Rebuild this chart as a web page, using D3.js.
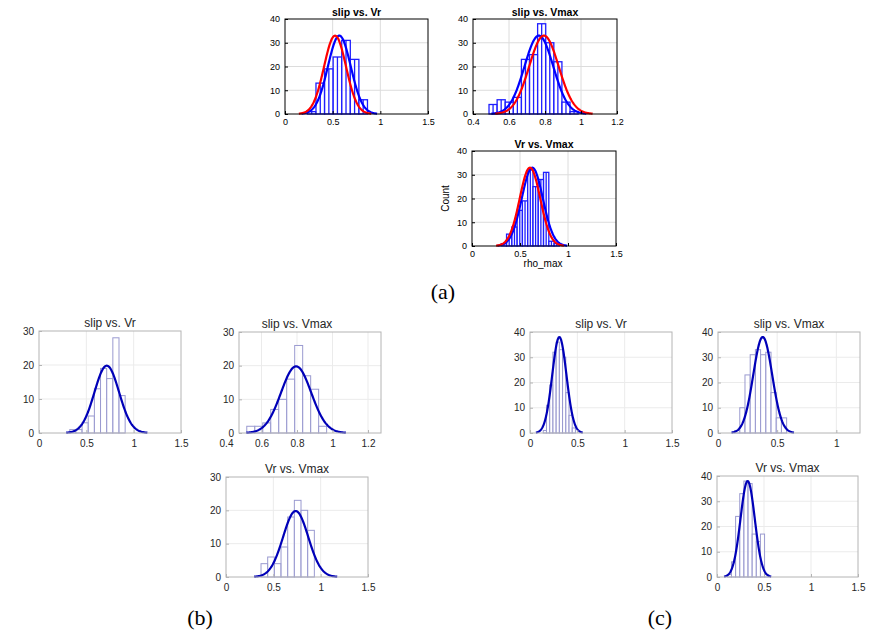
<!DOCTYPE html>
<html><head><meta charset="utf-8">
<script src="https://cdn.jsdelivr.net/npm/d3@7"></script>
<style>
body{margin:0;background:#fff}
svg{display:block}
text{font-family:"Liberation Sans",Arial,sans-serif}
</style>
</head><body>
<svg id="chart" width="882" height="633"></svg>
<script>
// ---------- DATA ----------
const titles = ["slip vs. Vr", "slip vs. Vmax", "Vr vs. Vmax"];
const groupLabels = ["(a)", "(b)", "(c)"];
const xTicksFull = [0, 0.5, 1, 1.5];
const xTicksVmax = [0.4, 0.6, 0.8, 1, 1.2];
const xTicksShort = [0, 0.5, 1];
const yTicks40 = [0, 10, 20, 30, 40];
const yTicks30 = [0, 10, 20, 30];
const axisLabels = ["Count", "rho_max"];

// histograms: first bin edge, bin width, counts
const aSlipVrStart = 0.235, aSlipVrWidth = 0.09;
const aSlipVrCounts = [1, 13, 19, 24, 31, 23, 6];
const aSlipVmaxStart = 0.489, aSlipVmaxWidth = 0.045;
const aSlipVmaxCounts = [4, 6, 5, 7, 23, 25, 38, 30, 22, 5, 1];
const aVrVmaxStart = 0.305, aVrVmaxWidth = 0.055;
const aVrVmaxCounts = [1, 5, 8, 15, 19, 32, 25, 28, 31, 2, 1];

const bSlipVrStart = 0.325, bSlipVrWidth = 0.065;
const bSlipVrCounts = [1, 1, 3, 5, 13, 19, 16, 28, 11];
const bSlipVmaxStart = 0.517, bSlipVmaxWidth = 0.045;
const bSlipVmaxCounts = [2, 2, 3, 7, 10, 16, 26, 17, 13, 2];
const bVrVmaxStart = 0.37, bVrVmaxWidth = 0.0704;
const bVrVmaxCounts = [4, 6, 4, 9, 18, 23, 20, 14];

const cSlipVrStart = 0.14, cSlipVrWidth = 0.034;
const cSlipVrCounts = [1, 11, 19, 32, 36, 33, 30, 16, 7, 2];
const cSlipVmaxStart = 0.14, cSlipVmaxWidth = 0.044;
const cSlipVmaxCounts = [1, 10, 23, 31, 33, 31, 32, 16, 6, 6];
const cVrVmaxStart = 0.11, cVrVmaxWidth = 0.044;
const cVrVmaxCounts = [1, 6, 24, 33, 38, 37, 17, 14, 17, 1];

// fitted normal curves: [mean, sigma, peak count]
const aSlipVrBlue = [0.57, 0.12, 33], aSlipVrRed = [0.525, 0.115, 33];
const aSlipVmaxBlue = [0.766, 0.08, 33], aSlipVmaxRed = [0.794, 0.082, 33];
const aVrVmaxBlue = [0.628, 0.11, 33], aVrVmaxRed = [0.604, 0.107, 33];
const bSlipVrFit = [0.716, 0.13, 19.8];
const bSlipVmaxFit = [0.795, 0.085, 19.8];
const bVrVmaxFit = [0.736, 0.133, 19.8];
const cSlipVrFit = [0.31, 0.075, 38];
const cSlipVmaxFit = [0.378, 0.08, 38];
const cVrVmaxFit = [0.326, 0.076, 38];

// ---------- LAYOUT / STYLE ----------
const svg = d3.select("#chart");
const styleA = {bar:"#1f1fff", barW:1.3, split:true, box:"#000", grid:"#dcdcdc", tick:"#000",
  tickSize:9, xPad:5, titleSize:10.5, titleWeight:"bold", titleOff:3, curves:["#0000ff","#ff0000"]};
const styleB = {bar:"#9a9ad0", barW:1, split:false, box:"#b4b4b4", grid:"#ebebeb", tick:"#262626",
  tickSize:10, xPad:7, titleSize:12, titleWeight:"normal", titleOff:4, curves:["#0000b8"]};

const panels = [
  {t:0, s:styleA, box:[285,19,428,114], range:[285,428], xd:[0,1.5], xt:xTicksFull, ym:40, yt:yTicks40,
   start:aSlipVrStart, w:aSlipVrWidth, counts:aSlipVrCounts, fits:[aSlipVrBlue, aSlipVrRed]},
  {t:1, s:styleA, box:[473,19,617,114], range:[473,617], xd:[0.4,1.2], xt:xTicksVmax, ym:40, yt:yTicks40,
   start:aSlipVmaxStart, w:aSlipVmaxWidth, counts:aSlipVmaxCounts, fits:[aSlipVmaxBlue, aSlipVmaxRed]},
  {t:2, s:styleA, box:[472,151,616,246], range:[472,616], xd:[0,1.5], xt:xTicksFull, ym:40, yt:yTicks40,
   start:aVrVmaxStart, w:aVrVmaxWidth, counts:aVrVmaxCounts, fits:[aVrVmaxBlue, aVrVmaxRed], labels:true},
  {t:0, s:styleB, box:[39,331,181,433], range:[39,181], xd:[0,1.5], xt:xTicksFull, ym:30, yt:yTicks30,
   start:bSlipVrStart, w:bSlipVrWidth, counts:bSlipVrCounts, fits:[bSlipVrFit]},
  {t:1, s:styleB, box:[239,332,381,433], range:[226,368], xd:[0.4,1.2], xt:xTicksVmax, ym:30, yt:yTicks30,
   start:bSlipVmaxStart, w:bSlipVmaxWidth, counts:bSlipVmaxCounts, fits:[bSlipVmaxFit]},
  {t:2, s:styleB, box:[226,477,368,577], range:[226,368], xd:[0,1.5], xt:xTicksFull, ym:30, yt:yTicks30,
   start:bVrVmaxStart, w:bVrVmaxWidth, counts:bVrVmaxCounts, fits:[bVrVmaxFit]},
  {t:0, s:styleB, box:[530,332,672,433], range:[530,672], xd:[0,1.5], xt:xTicksFull, ym:40, yt:yTicks40,
   start:cSlipVrStart, w:cSlipVrWidth, counts:cSlipVrCounts, fits:[cSlipVrFit]},
  {t:1, s:styleB, box:[718,332,860,433], range:[718,860], xd:[0,1.2], xt:xTicksShort, ym:40, yt:yTicks40,
   start:cSlipVmaxStart, w:cSlipVmaxWidth, counts:cSlipVmaxCounts, fits:[cSlipVmaxFit]},
  {t:2, s:styleB, box:[717,476,858,577], range:[717,858], xd:[0,1.5], xt:xTicksFull, ym:40, yt:yTicks40,
   start:cVrVmaxStart, w:cVrVmaxWidth, counts:cVrVmaxCounts, fits:[cVrVmaxFit]}
];

function drawPanel(p) {
  const s = p.s;
  const [bl, bt, br, bb] = p.box;
  const x = d3.scaleLinear().domain(p.xd).range(p.range);
  const y = d3.scaleLinear().domain([0, p.ym]).range([bb, bt]);
  const g = svg.append("g");

  // grid
  g.selectAll(null).data(p.xt.filter(v => x(v) > bl + 0.5 && x(v) < br - 0.5)).enter().append("line")
    .attr("x1", d => x(d)).attr("x2", d => x(d)).attr("y1", bt).attr("y2", bb)
    .attr("stroke", s.grid).attr("stroke-width", 1);
  g.selectAll(null).data(p.yt.filter(v => v > 0 && v < p.ym)).enter().append("line")
    .attr("x1", bl).attr("x2", br).attr("y1", d => y(d)).attr("y2", d => y(d))
    .attr("stroke", s.grid).attr("stroke-width", 1);

  // bars
  const bins = p.counts.map((c, i) => ({x0: p.start + i * p.w, x1: p.start + (i + 1) * p.w, c}));
  g.selectAll(null).data(bins).enter().append("rect")
    .attr("x", d => x(d.x0)).attr("width", d => x(d.x1) - x(d.x0))
    .attr("y", d => y(d.c)).attr("height", d => y(0) - y(d.c))
    .attr("fill", "#fff").attr("fill-opacity", 0.6)
    .attr("stroke", s.bar).attr("stroke-width", s.barW);
  if (s.split) {
    g.selectAll(null).data(bins).enter().append("line")
      .attr("x1", d => x((d.x0 + d.x1) / 2)).attr("x2", d => x((d.x0 + d.x1) / 2))
      .attr("y1", d => y(d.c)).attr("y2", y(0))
      .attr("stroke", s.bar).attr("stroke-width", s.barW);
  }

  // fitted curves
  p.fits.forEach((f, k) => {
    const [mu, sd, pk] = f;
    const pts = d3.range(0, 161).map(i => {
      const xv = mu - 3.3 * sd + i * (6.6 * sd / 160);
      return [xv, pk * Math.exp(-0.5 * ((xv - mu) / sd) ** 2)];
    });
    g.append("path").datum(pts)
      .attr("d", d3.line().x(d => x(d[0])).y(d => y(d[1])))
      .attr("fill", "none").attr("stroke", s.curves[k]).attr("stroke-width", 2.2);
  });

  // box
  g.append("rect").attr("x", bl).attr("y", bt).attr("width", br - bl).attr("height", bb - bt)
    .attr("fill", "none").attr("stroke", s.box).attr("stroke-width", 1);

  // axes
  const xa = g.append("g").attr("transform", `translate(0,${bb})`)
    .call(d3.axisBottom(x).tickValues(p.xt).tickFormat(d => String(d)).tickSize(-3).tickPadding(s.xPad));
  const ya = g.append("g").attr("transform", `translate(${bl},0)`)
    .call(d3.axisLeft(y).tickValues(p.yt).tickFormat(d => String(d)).tickSize(-3).tickPadding(5));
  [xa, ya].forEach(a => {
    a.select(".domain").remove();
    a.selectAll("line").attr("stroke", s.box);
    a.selectAll("text").attr("fill", s.tick).attr("font-size", s.tickSize)
      .attr("font-family", "'Liberation Sans', Arial, sans-serif");
  });
  xa.selectAll(".tick").filter(d => x(d) < bl - 0.5 || x(d) > br + 0.5).select("line").remove();

  // title
  g.append("text").attr("x", (p.range[0] + p.range[1]) / 2).attr("y", bt - s.titleOff)
    .attr("text-anchor", "middle").attr("font-size", s.titleSize).attr("font-weight", s.titleWeight)
    .attr("fill", s.tick).text(titles[p.t]);

  if (p.labels) {
    g.append("text").attr("transform", `translate(${bl - 23},${(bt + bb) / 2}) rotate(-90)`)
      .attr("text-anchor", "middle").attr("font-size", 10).text(axisLabels[0]);
    g.append("text").attr("x", (bl + br) / 2 - 1).attr("y", bb + 21)
      .attr("text-anchor", "middle").attr("font-size", 10).text(axisLabels[1]);
  }
}
panels.forEach(drawPanel);

const labelPos = [[443, 299], [200, 625], [660, 625]];
svg.selectAll(null).data(groupLabels).enter().append("text")
  .attr("x", (d, i) => labelPos[i][0]).attr("y", (d, i) => labelPos[i][1])
  .attr("text-anchor", "middle").attr("font-size", 22)
  .style("font-family", "'Liberation Serif', 'Times New Roman', serif")
  .text(d => d);
</script>
</body></html>
